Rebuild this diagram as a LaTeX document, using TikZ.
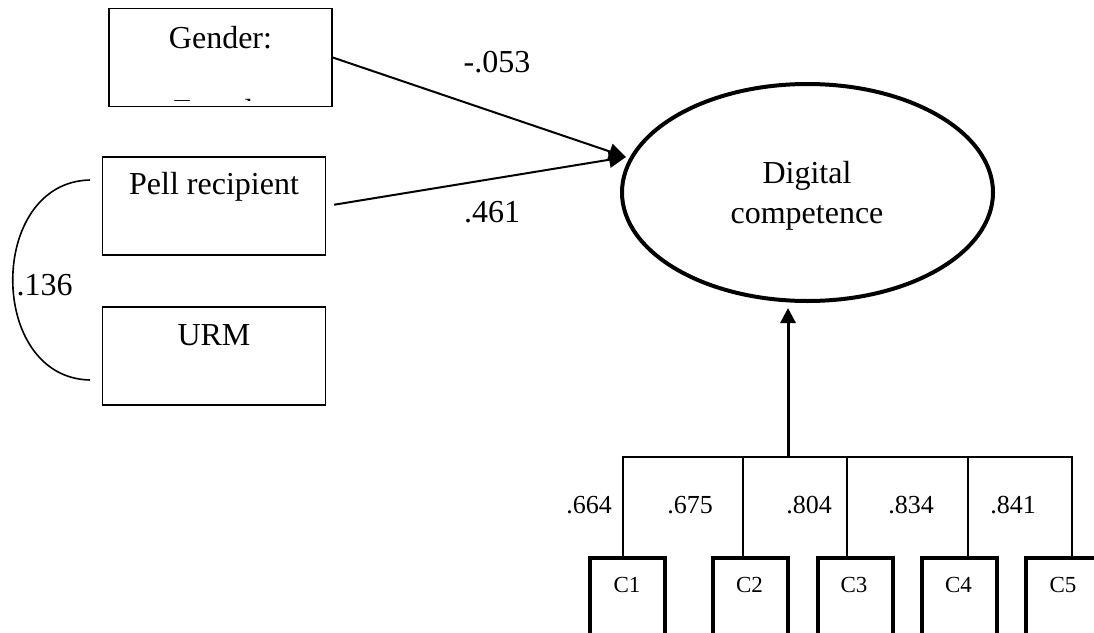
\documentclass[tikz,border=0pt]{standalone}
\usepackage{fontspec}
\setmainfont{Liberation Serif}
\usetikzlibrary{arrows.meta,shapes.geometric,calc}

\tikzset{
  obsbox/.style={draw, line width=1.6pt, minimum width=223pt, minimum height=98pt, inner sep=0pt},
  indbox/.style={draw, line width=4pt, minimum width=75pt, minimum height=78pt, inner sep=0pt},
  latent/.style={ellipse, draw, line width=4pt, minimum width=371pt, minimum height=217pt, inner sep=0pt},
  lbl/.style={anchor=base, inner sep=0pt, font=\fontsize{32}{37}\selectfont},
  coefsm/.style={anchor=base, inner sep=0pt, font=\fontsize{26}{30}\selectfont},
  clbl/.style={anchor=base, inner sep=0pt, font=\fontsize{23}{27}\selectfont},
  regarrow/.style={line width=2pt, -{Triangle[length=17pt,width=16pt]}},
  thinline/.style={line width=1.6pt}
}

\begin{document}
\begin{tikzpicture}[x=1pt,y=-1pt]
\useasboundingbox (0,0) rectangle (1094,632);
\clip (0,0) rectangle (1094,632);

% exogenous variables
\node[obsbox] (gender) at (220.5,57.5) {};
\node[lbl] (gendert) at (220.5,48) {Gender:};
\begin{scope}
  \clip (109,9) rectangle (332,100);
  \node[lbl] (femt) at (220.5,121) {Female};
\end{scope}
\node[obsbox] (pell) at (214,206) {};
\node[lbl] (pellt) at (214,194) {Pell recipient};
\node[obsbox] (urm) at (214,356) {};
\node[lbl] (urmt) at (214,345) {URM};

% latent construct
\node[latent] (dc) at (807.5,192.5) {};
\node[lbl] (dct1) at (807,183) {Digital};
\node[lbl] (dct2) at (807,223) {competence};

% structural paths
\coordinate (dcin) at (626,157);
\draw[regarrow] (gender.east) -- (dcin);
\draw[regarrow, shorten <=8pt] (pell.east) -- (dcin);
\node[lbl] (pgender) at (497,72) {-.053};
\node[lbl] (ppell) at (492,222) {.461};

% covariance between Pell and URM
\coordinate (ca) at (90,180);
\coordinate (cb) at (90,380);
\draw[thinline] (ca) .. controls (-13,182) and (-13,378) .. (cb);
\node[lbl] (rcov) at (44.5,295) {.136};

% indicators
\node[indbox] (c1) at (627.5,597) {};
\node[indbox] (c2) at (750.5,597) {};
\node[indbox] (c3) at (855,597) {};
\node[indbox] (c4) at (959.5,597) {};
\node[indbox] (c5) at (1063.5,597) {};
\node[clbl] (c1t) at (627,592) {C1};
\node[clbl] (c2t) at (749.5,592) {C2};
\node[clbl] (c3t) at (854,592) {C3};
\node[clbl] (c4t) at (958.5,592) {C4};
\node[clbl] (c5t) at (1063,592) {C5};

% measurement bar
\coordinate (b1) at (623,457);
\coordinate (b2) at (743,457);
\coordinate (bm) at (788,457);
\coordinate (b3) at (847,457);
\coordinate (b4) at (968,457);
\coordinate (b5) at (1072,457);
\draw[line width=2pt] (b1 |- c1.north) -- (b1) -- (b5) -- (b5 |- c5.north);
\draw[thinline] (b2) -- (b2 |- c2.north);
\draw[thinline] (b3) -- (b3 |- c3.north);
\draw[thinline] (b4) -- (b4 |- c4.north);
\draw[line width=3pt, -{Triangle[length=15pt,width=15pt]}, shorten >=5pt] (bm) -- (bm |- dc.south);

% loadings
\node[coefsm] (l1) at (589,513) {.664};
\node[coefsm] (l2) at (690,513) {.675};
\node[coefsm] (l3) at (809,513) {.804};
\node[coefsm] (l4) at (911,513) {.834};
\node[coefsm] (l5) at (1013,513) {.841};
\end{tikzpicture}
\end{document}
